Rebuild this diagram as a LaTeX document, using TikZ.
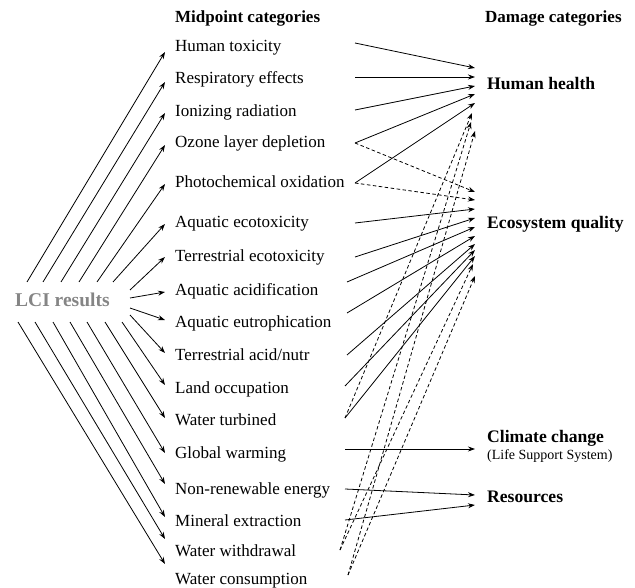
\documentclass[tikz,border=0pt]{standalone}
\usepackage{fontspec}
\setmainfont{Liberation Serif}
\usetikzlibrary{arrows.meta}
\begin{document}
\begin{tikzpicture}[x=1pt,y=-1pt,
  conn/.style={line width=0.8pt,-{Stealth[length=7pt,width=5pt]}},
  dconn/.style={conn,dash pattern=on 3.5pt off 2.5pt},
  mid/.style={anchor=base west,inner sep=0pt,font=\fontsize{17}{20}\selectfont},
  head/.style={anchor=base west,inner sep=0pt,font=\fontsize{17}{20}\selectfont\bfseries},
  dmg/.style={anchor=base west,inner sep=0pt,font=\fontsize{17.6}{20}\selectfont\bfseries},
  small/.style={anchor=base west,inner sep=0pt,font=\fontsize{14}{16}\selectfont}]
\useasboundingbox (0,0) rectangle (635,588);

% headers
\node[head] (hmid) at (175,23) {Midpoint categories};
\node[head] (hdam) at (485,23) {Damage categories};

% LCI results
\node[anchor=base west,inner sep=0pt,font=\fontsize{19.5}{22}\selectfont\bfseries,text=black!48] (lci) at (15,307) {LCI results};

% midpoint labels
\foreach \n/\y/\t in {ht/47/Human toxicity, re/79/Respiratory effects, ir/112/Ionizing radiation,
  old/143/Ozone layer depletion, po/183/Photochemical oxidation, ae/223/Aquatic ecotoxicity,
  te/257/Terrestrial ecotoxicity, aa/290/Aquatic acidification, aeu/322/Aquatic eutrophication,
  ta/355/Terrestrial acid{/}nutr, lo/388/Land occupation, wt/420/Water turbined,
  gw/453/Global warming, nre/489/Non-renewable energy, me/521/Mineral extraction,
  ww/551/Water withdrawal, wc/579/Water consumption}
  {\node[mid] (m-\n) at (175,\y+5) {\t};}

% damage labels
\node[dmg] (hh) at (487,90) {Human health};
\node[dmg] (eq) at (487,229) {Ecosystem quality};
\node[dmg] (cc) at (487,442) {Climate change};
\node[small] (lss) at (487,459) {(Life Support System)};
\node[dmg] (res) at (487,502) {Resources};

% LCI -> midpoint fan
\foreach \n/\sx/\sy/\tx/\ty in {ht/27/282/165/52, re/43/282/165/82, ir/61/282/165/113,
  old/79/282/165/145, po/97/282/165/184, ae/113/282/165/224, te/130/290/165/257,
  aa/130/298/165/292, aeu/130/308/165/320, ta/130/315/165/353, lo/122/322/165/385,
  wt/105/322/165/418, gw/87/322/165/453, nre/70/322/165/484, me/53/322/165/517,
  ww/35/322/165/539, wc/18/322/165/564}
  {\coordinate (s-\n) at (\sx,\sy);
   \coordinate (t-\n) at (\tx,\ty);
   \draw[conn] (s-\n) -- (t-\n);}

% right-side start points
\coordinate (o-ht) at (355,43);
\coordinate (o-re) at (355,77);
\coordinate (o-ir) at (355,110);
\coordinate (o-old) at (355,143);
\coordinate (o-po) at (355,183);
\coordinate (o-ae) at (355,223);
\coordinate (o-te) at (355,257);
\coordinate (o-aa) at (347,282);
\coordinate (o-aeu) at (347,313);
\coordinate (o-ta) at (347,355);
\coordinate (o-lo) at (345,386);
\coordinate (o-wt) at (345,418);
\coordinate (o-gw) at (345,449);
\coordinate (o-nre) at (345,489);
\coordinate (o-me) at (345,520);
\coordinate (o-ww) at (340,550);
\coordinate (o-wc) at (348,575);

% Human health tips
\coordinate (hh1) at (475,68);
\coordinate (hh2) at (475,77);
\coordinate (hh3) at (475,86);
\coordinate (hh4) at (475,94);
\coordinate (hh5) at (475,103);
\coordinate (hh6) at (472,113);
\coordinate (hh7) at (471,122);
\coordinate (hh8) at (475,131);
% Ecosystem quality tips
\coordinate (eq1) at (475,192);
\coordinate (eq2) at (475,200);
\coordinate (eq3) at (475,209);
\coordinate (eq4) at (475,218);
\coordinate (eq5) at (475,227);
\coordinate (eq6) at (475,236);
\coordinate (eq7) at (475,244);
\coordinate (eq8) at (475,250);
\coordinate (eq9) at (475,256);
\coordinate (eq10) at (473,264);
\coordinate (eq11) at (475,276);
% other tips
\coordinate (cc1) at (475,449);
\coordinate (rs1) at (475,495);
\coordinate (rs2) at (475,505);

% solid connectors
\draw[conn] (o-ht) -- (hh1);
\draw[conn] (o-re) -- (hh2);
\draw[conn] (o-ir) -- (hh3);
\draw[conn] (o-old) -- (hh4);
\draw[conn] (o-po) -- (hh5);
\draw[conn] (o-ae) -- (eq3);
\draw[conn] (o-te) -- (eq4);
\draw[conn] (o-aa) -- (eq5);
\draw[conn] (o-aeu) -- (eq6);
\draw[conn] (o-ta) -- (eq7);
\draw[conn] (o-lo) -- (eq8);
\draw[conn] (o-wt) -- (eq9);
\draw[conn] (o-gw) -- (cc1);
\draw[conn] (o-nre) -- (rs1);
\draw[conn] (o-me) -- (rs2);

% dashed connectors
\draw[dconn] (o-old) -- (eq1);
\draw[dconn] (o-po) -- (eq2);
\draw[dconn] (o-wt) -- (hh6);
\draw[dconn] (o-ww) -- (hh7);
\draw[dconn] (o-wc) -- (hh8);
\draw[dconn] (o-ww) -- (eq10);
\draw[dconn] (o-wc) -- (eq11);
\end{tikzpicture}
\end{document}
